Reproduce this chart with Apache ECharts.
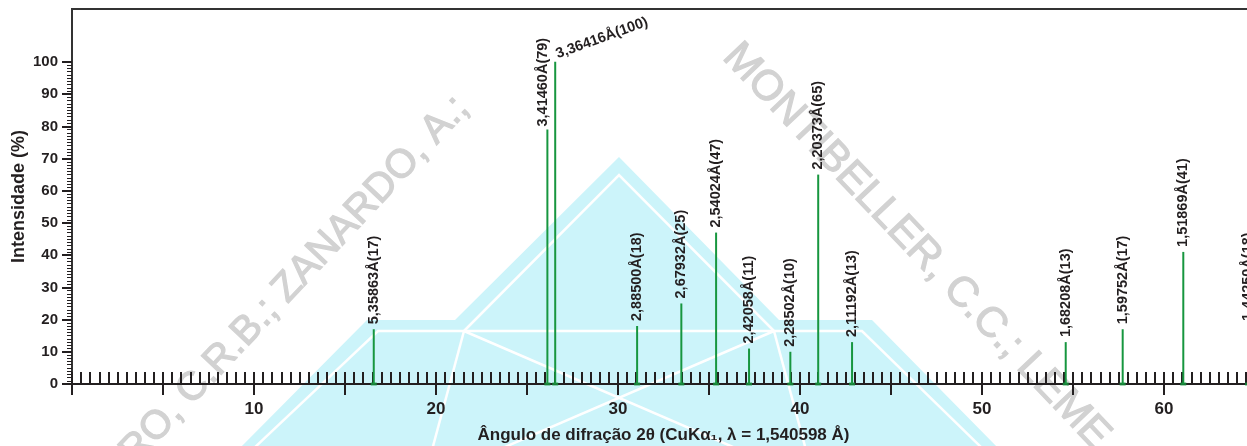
<!DOCTYPE html>
<html lang="pt">
<head>
<meta charset="UTF-8">
<title>Difratograma</title>
<script src="https://cdn.jsdelivr.net/npm/echarts@6/dist/echarts.min.js"></script>
<style>
    html, body { margin: 0; padding: 0; background: #fff; }
    #main { width: 1247px; height: 446px; }
</style>
</head>
<body>
<div id="main"></div>
<script>
    var twoTheta = [16.58, 26.12, 26.55, 31.05, 33.48, 35.39, 37.2, 39.47, 41.0, 42.86, 54.6, 57.73, 61.06, 64.62];
    var intensity = [17, 79, 100, 18, 25, 47, 11, 10, 65, 13, 13, 17, 41, 18];
    var dSpacing = ['5,35863', '3,41460', '3,36416', '2,88500', '2,67932', '2,54024', '2,42058',
        '2,28502', '2,20373', '2,11192', '1,68208', '1,59752', '1,51869', '1,44250'];
    var xLabels = [10, 20, 30, 40, 50, 60];

    var mychart = echarts.init(document.getElementById('main'));
    var font = "'Liberation Sans', Arial, Helvetica, sans-serif";
    var ink = '#231f20';
    var green = '#17963f';
    var deg = Math.PI / 180;

    var barData = [];
    var footData = [];
    for (var i = 0; i < twoTheta.length; i++) {
        var item = {
            value: [twoTheta[i], intensity[i]],
            name: dSpacing[i] + 'Å(' + intensity[i] + ')'
        };
        if (intensity[i] === 100) {
            item.label = { rotate: 20, align: 'left', verticalAlign: 'bottom', distance: 2, offset: [3, 3] };
        }
        if (dSpacing[i] === '3,41460') {
            item.label = { distance: 3, offset: [0, -4] };
        }
        barData.push(item);
        footData.push([twoTheta[i], 0]);
    }

    var cyan = '#ccf4fa';
    var wmColor = '#d2d2d2';
    var watermark = [
        {
            type: 'polygon', z: -10, silent: true,
            shape: { points: [[238, 450], [367, 320], [455, 320], [619, 157], [779, 320], [872, 320], [1000, 450]] },
            style: { fill: cyan }
        },
        {
            type: 'polyline', z: -9, silent: true,
            shape: { points: [[252, 450], [378, 331], [862, 331], [984, 450]] },
            style: { stroke: '#fff', lineWidth: 2.5, fill: null }
        },
        {
            type: 'polyline', z: -9, silent: true,
            shape: { points: [[464, 331], [619, 175], [774, 331]] },
            style: { stroke: '#fff', lineWidth: 2.5, fill: null }
        },
        {
            type: 'polyline', z: -9, silent: true,
            shape: { points: [[464, 331], [740, 450]] },
            style: { stroke: '#fff', lineWidth: 2.5, fill: null }
        },
        {
            type: 'polyline', z: -9, silent: true,
            shape: { points: [[774, 331], [498, 450]] },
            style: { stroke: '#fff', lineWidth: 2.5, fill: null }
        },
        {
            type: 'polyline', z: -9, silent: true,
            shape: { points: [[464, 331], [432, 450]] },
            style: { stroke: '#fff', lineWidth: 2.5, fill: null }
        },
        {
            type: 'polyline', z: -9, silent: true,
            shape: { points: [[774, 331], [806, 450]] },
            style: { stroke: '#fff', lineWidth: 2.5, fill: null }
        },
        {
            type: 'text', z: -8, silent: true,
            x: 462, y: 102, rotation: 46.8 * deg,
            style: {
                text: 'MONTEIRO, C.R.B.; ZANARDO, A.;', font: '40px ' + font, fill: wmColor,
                stroke: wmColor, lineWidth: 1.2,
                align: 'right', verticalAlign: 'middle', textAlign: 'right', textVerticalAlign: 'middle'
            }
        },
        {
            type: 'text', z: -8, silent: true,
            x: 730, y: 50, rotation: -46.5 * deg,
            style: {
                text: 'MONTIBELLER, C.C.; LEME, T.', font: '42px ' + font, fill: wmColor,
                stroke: wmColor, lineWidth: 1.2,
                align: 'left', verticalAlign: 'middle', textAlign: 'left', textVerticalAlign: 'middle'
            }
        }
    ];

    var option = {
        backgroundColor: '#fff',
        animation: false,
        graphic: { elements: watermark },
        grid: [
            { left: 72, top: 9, width: 1183, height: 375, outerBoundsMode: 'none', containLabel: false,
              show: true, borderColor: '#333', borderWidth: 2 },
            { left: 72, top: 62, width: 1183, height: 322, outerBoundsMode: 'none', containLabel: false }
        ],
        xAxis: [
            {
                gridIndex: 0, type: 'value', position: 'bottom', min: 0, max: 65, interval: 0.5,
                axisLine: { onZero: false, lineStyle: { color: ink, width: 2 } },
                axisTick: { inside: true, length: 12, lineStyle: { color: ink, width: 2 } },
                axisLabel: { show: false },
                splitLine: { show: false }
            },
            {
                gridIndex: 0, type: 'value', position: 'bottom', min: 0, max: 65, interval: 5,
                axisLine: { show: false, onZero: false },
                axisTick: { length: 11, lineStyle: { color: ink, width: 2 } },
                axisLabel: {
                    margin: 17, fontFamily: font, fontSize: 17, fontWeight: 'bold', color: ink,
                    formatter: function (v) { return xLabels.indexOf(v) >= 0 ? String(v) : ''; }
                },
                splitLine: { show: false },
                name: 'Ângulo de difração 2θ (CuKα₁, λ = 1,540598 Å)',
                nameLocation: 'middle', nameGap: 43,
                nameTextStyle: { fontFamily: font, fontSize: 17, fontWeight: 'bold', color: ink }
            },
            { gridIndex: 1, type: 'value', min: 0, max: 65, show: false }
        ],
        yAxis: [
            {
                gridIndex: 0, type: 'value', min: 0, max: 116.4,
                axisLine: { show: false }, axisTick: { show: false }, axisLabel: { show: false },
                splitLine: { show: false },
                name: 'Intensidade (%)', nameLocation: 'middle', nameGap: 44,
                nameTextStyle: { fontFamily: font, fontSize: 18, fontWeight: 'bold', color: ink }
            },
            {
                gridIndex: 1, type: 'value', min: 0, max: 100, interval: 10,
                axisLine: { show: false },
                axisTick: { show: true, length: 10, lineStyle: { color: ink, width: 2 } },
                minorTick: { show: true, splitNumber: 10, length: 5, lineStyle: { color: ink, width: 1 } },
                axisLabel: { margin: 14, fontFamily: font, fontSize: 15, fontWeight: 'bold', color: ink },
                splitLine: { show: false }
            }
        ],
        series: [
            {
                type: 'bar', xAxisIndex: 0, yAxisIndex: 0, barWidth: 2,
                data: barData,
                itemStyle: { color: green },
                label: {
                    show: true, position: 'top', rotate: 90, align: 'left', verticalAlign: 'middle',
                    distance: 5, formatter: '{b}',
                    fontFamily: font, fontSize: 14.5, fontWeight: 'bold', color: ink
                },
                z: 3
            },
            {
                type: 'scatter', xAxisIndex: 0, yAxisIndex: 0,
                data: footData, symbol: 'rect', symbolSize: [6, 3],
                itemStyle: { color: green }, silent: true, z: 4
            }
        ]
    };
    mychart.setOption(option);
</script>
</body>
</html>
